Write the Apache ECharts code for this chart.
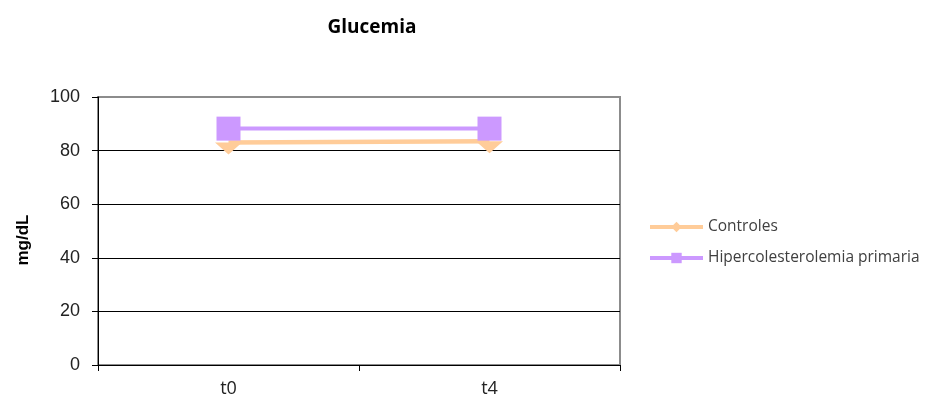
<!DOCTYPE html>
<html>
<head>
<meta charset="utf-8">
<script src="https://cdn.jsdelivr.net/npm/echarts@6/dist/echarts.min.js"></script>
<style>
  html, body { margin: 0; padding: 0; background: #fff; }
  #chart { width: 931px; height: 399px; }
</style>
</head>
<body>
<div id="chart"></div>
<script>
// Glucemia (mg/dL) at t0 and t4 for the two study groups
const categories = ['t0', 't4'];
const controles = [83.0, 83.5];
const hipercolesterolemia = [88.2, 88.2];
const yTicks = { min: 0, max: 100, interval: 20 };

const chart = echarts.init(document.getElementById('chart'));

// downward-pointing triangle used for the control group markers
const downTriangle = 'path://M0,0 L2,0 L1,1 Z';

chart.setOption({
  animation: false,
  backgroundColor: '#ffffff',
  title: {
    text: 'Glucemia',
    left: 367,
    top: 13,
    textAlign: 'center',
    textStyle: { fontFamily: 'Open Sans', fontWeight: 'bold', fontSize: 19, color: '#000' }
  },
  grid: {
    left: 98, right: 311, top: 97, bottom: 34,
    show: true,
    borderColor: '#8c8c8c',
    borderWidth: 2,
    backgroundColor: 'transparent'
  },
  legend: {
    orient: 'vertical',
    left: 643,
    top: 214,
    itemWidth: 53,
    itemHeight: 13,
    itemGap: 15,
    lineStyle: { width: 4 },
    textStyle: { fontFamily: 'Open Sans', fontSize: 15.5, color: '#404040' },
    data: ['Controles', 'Hipercolesterolemia primaria']
  },
  xAxis: {
    type: 'category',
    data: categories,
    boundaryGap: true,
    axisLine: { lineStyle: { color: '#000', width: 1 } },
    axisTick: { show: true, length: 6, lineStyle: { color: '#000' } },
    axisLabel: { margin: 15, fontFamily: 'Open Sans', fontSize: 18, color: '#222' },
    splitLine: { show: false }
  },
  yAxis: {
    type: 'value',
    min: yTicks.min,
    max: yTicks.max,
    interval: yTicks.interval,
    axisLine: { show: true, lineStyle: { color: '#000', width: 1 } },
    axisTick: { show: true, inside: false, length: 6, lineStyle: { color: '#000' } },
    axisLabel: { margin: 18, fontFamily: 'Liberation Sans', fontSize: 18, color: '#222' },
    splitLine: { show: true, showMaxLine: false, lineStyle: { color: '#000', width: 1 } }
  },
  graphic: [{
    type: 'text',
    x: 23,
    y: 240,
    rotation: Math.PI / 2,
    style: {
      text: 'mg/dL',
      fontFamily: 'Liberation Sans',
      fontWeight: 'bold',
      fontSize: 17,
      fill: '#000',
      align: 'center',
      verticalAlign: 'middle'
    }
  }],
  series: [
    {
      name: 'Controles',
      type: 'line',
      symbol: 'diamond',
      color: '#FFCC99',
      lineStyle: { color: '#FFCC99', width: 4.5 },
      itemStyle: { color: '#FFCC99' },
      data: controles.map(v => ({
        value: v,
        symbol: downTriangle,
        symbolSize: [27, 12],
        symbolKeepAspect: false,
        symbolOffset: [0, 6]
      })),
      z: 2
    },
    {
      name: 'Hipercolesterolemia primaria',
      type: 'line',
      symbol: 'rect',
      symbolSize: 24,
      color: '#CC99FF',
      lineStyle: { color: '#CC99FF', width: 4 },
      itemStyle: { color: '#CC99FF' },
      data: hipercolesterolemia,
      z: 3
    }
  ]
});
</script>
</body>
</html>
